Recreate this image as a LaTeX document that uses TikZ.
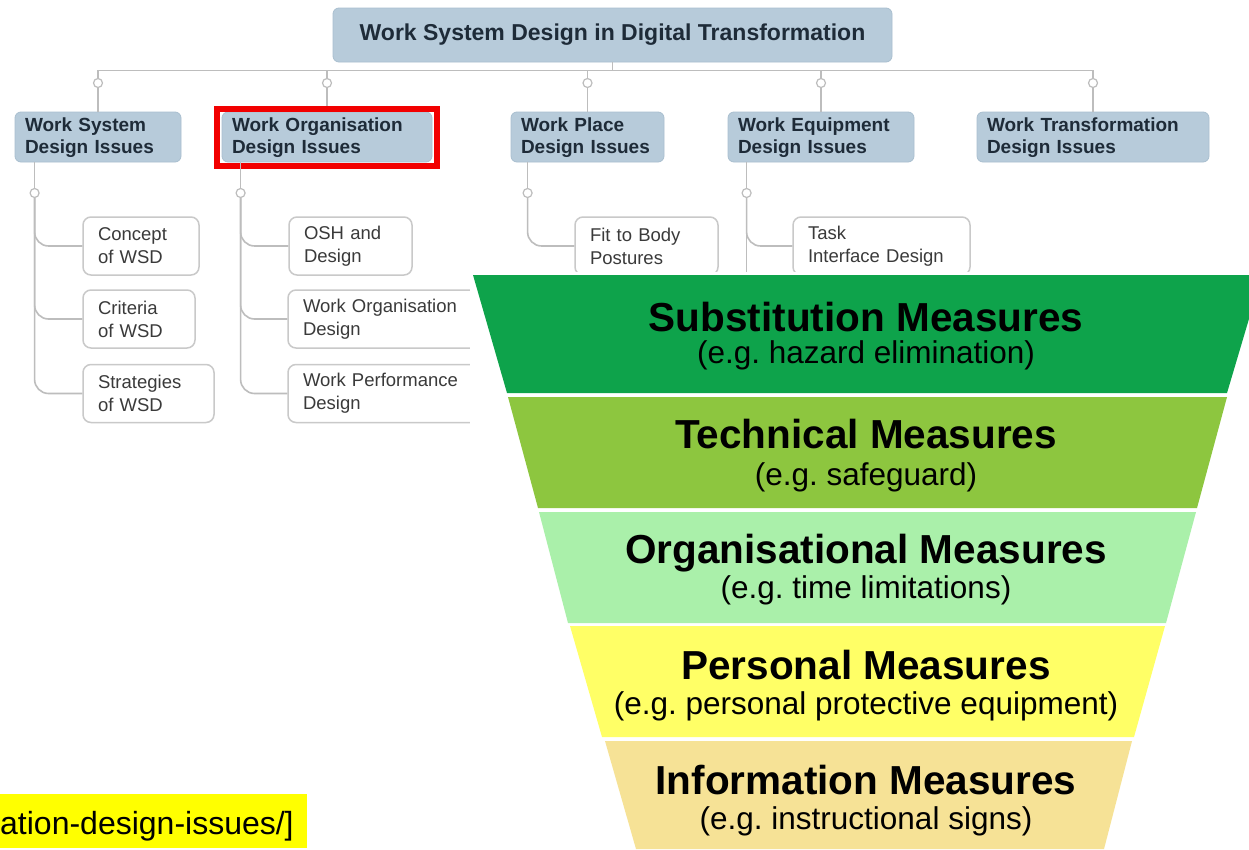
\documentclass[tikz,border=0pt]{standalone}
\usepackage{fontspec}
\setmainfont{Liberation Sans}
\frenchspacing
\definecolor{boxblue}{HTML}{B7CBDA}
\definecolor{boxedge}{HTML}{A9BFCF}
\definecolor{boxtext}{HTML}{1E2B38}
\definecolor{linegray}{HTML}{BDBDBD}
\definecolor{leafedge}{HTML}{C9C9C9}
\definecolor{leaftext}{HTML}{3A3A3A}
\definecolor{framered}{HTML}{F20000}
\definecolor{layerA}{HTML}{0EA34B}
\definecolor{layerB}{HTML}{8DC63F}
\definecolor{layerC}{HTML}{AAF0AA}
\definecolor{layerD}{HTML}{FFFF66}
\definecolor{layerE}{HTML}{F6E296}
\definecolor{labelyellow}{HTML}{FFFF00}
\begin{document}
\begin{tikzpicture}[x=1pt,y=-1pt,
    link/.style={draw=linegray, line width=1.6pt},
    theme/.style={rounded corners=6pt, fill=boxblue, draw=boxedge, line width=0.8pt,
      inner xsep=10pt, inner ysep=0pt, minimum height=50pt, align=left, text=boxtext,
      font=\bfseries\fontsize{19}{22}\selectfont},
    leaf/.style={rounded corners=8pt, fill=white, draw=leafedge, line width=1.5pt,
      inner xsep=15pt, inner ysep=0pt, minimum height=58pt, align=left, text=leaftext,
      font=\fontsize{18.5}{23}\selectfont},
    knob/.style={circle, draw=linegray, fill=white, line width=1.2pt, minimum size=9pt, inner sep=0pt},
    head/.style={anchor=base, font=\bfseries\fontsize{40.5}{48}\selectfont},
    hint/.style={anchor=base, font=\fontsize{31.5}{36}\selectfont}]
  \useasboundingbox (0,0) rectangle (1249,849);
  \fill[white] (0,0) rectangle (1249,849);

  %racine
  \node[theme, align=center, minimum width=559pt, minimum height=54pt,
    font=\bfseries\fontsize{23}{27}\selectfont] (top) at (612.5,35) {Work System Design in Digital Transformation};

  %themes
  \node[theme, text width=146pt] (ws) at (98,137) {\strut Work System\\Design Issues};
  \node[theme, text width=190pt] (wo) at (327,137) {\strut Work Organisation\\Design Issues};
  \node[theme, text width=133pt] (wp) at (587.5,137) {\strut Work Place\\Design Issues};
  \node[theme, text width=166pt] (we) at (821,137) {\strut Work Equipment\\Design Issues};
  \node[theme, text width=212pt] (wt) at (1093,137) {\strut Work Transformation\\Design Issues};

  %barre
  \draw[link] (top.south) -- ++(0,8) coordinate (hub);
  \draw[link] (ws.north) |- (hub);
  \draw[link] (wo.north) |- (hub);
  \draw[link] (wp.north) |- (hub);
  \draw[link] (we.north) |- (hub);
  \draw[link] (wt.north) |- (hub);
  \node[knob] (k-ws) at (ws.north |- 0,83) {};
  \node[knob] (k-wo) at (wo.north |- 0,83) {};
  \node[knob] (k-wp) at (wp.north |- 0,83) {};
  \node[knob] (k-we) at (we.north |- 0,83) {};
  \node[knob] (k-wt) at (wt.north |- 0,83) {};

  %cadre rouge
  \draw[framered, line width=6.5pt] ([xshift=-4.5pt,yshift=2.5pt]wo.north west) rectangle ([xshift=4.5pt,yshift=-3.5pt]wo.south east);

  %feuilles
  \node[leaf, text width=86pt] (c1) at (141,246) {Concept\\of WSD};
  \node[leaf, text width=82pt] (c2) at (139,319) {Criteria\\of WSD};
  \node[leaf, text width=101pt] (c3) at (148.5,393.5) {Strategies\\of WSD};
  \node[leaf, text width=93pt] (o1) at (350.5,246) {OSH and\\Design};
  \node[leaf, text width=170pt] (o2) at (388,319) {Work Organisation\\Design};
  \node[leaf, text width=170pt] (o3) at (388,393.5) {Work Performance\\Design};
  \node[leaf, text width=113pt] (p1) at (646.5,246) {Fit to Body\\Postures};
  \node[leaf, text width=147pt] (e1) at (881.5,246) {Task\\Interface Design};

  %tiges
  \coordinate (s-ws) at ([xshift=20pt]ws.south west);
  \coordinate (s-wo) at ([xshift=19pt]wo.south west);
  \coordinate (s-wp) at ([xshift=17pt]wp.south west);
  \coordinate (s-we) at ([xshift=19pt]we.south west);
  \node[knob] (q-ws) at (s-ws |- 0,193) {};
  \node[knob] (q-wo) at (s-wo |- 0,193) {};
  \node[knob] (q-wp) at (s-wp |- 0,193) {};
  \node[knob] (q-we) at (s-we |- 0,193) {};
  \draw[link] (s-ws) -- (q-ws);
  \draw[link] (s-wo) -- (q-wo);
  \draw[link] (s-wp) -- (q-wp);
  \draw[link] (s-we) -- (q-we);
  \draw[link, rounded corners=14pt] (q-ws) |- (c1.west);
  \draw[link, rounded corners=14pt] (q-ws) |- (c2.west);
  \draw[link, rounded corners=14pt] (q-ws) |- (c3.west);
  \draw[link, rounded corners=14pt] (q-wo) |- (o1.west);
  \draw[link, rounded corners=14pt] (q-wo) |- (o2.west);
  \draw[link, rounded corners=14pt] (q-wo) |- (o3.west);
  \draw[link, rounded corners=14pt] (q-wp) |- (p1.west);
  \draw[link, rounded corners=14pt] (q-we) |- (e1.west);
  \draw[link] (q-we) -- (q-we |- 0,285);

  %fond de l'entonnoir
  \fill[white] (470,272) rectangle (1249,849);

  %couches
  \fill[layerA] (473,275) -- (1262,275) -- (1227,393) -- (507,393) -- cycle;
  \fill[layerB] (508,397) -- (1227,397) -- (1197,508) -- (538,508) -- cycle;
  \fill[layerC] (539,512) -- (1196,512) -- (1166,623) -- (568,623) -- cycle;
  \fill[layerD] (570,626) -- (1165,626) -- (1134,737) -- (602,737) -- cycle;
  \fill[layerE] (605,741) -- (1132,741) -- (1104,849) -- (636,849) -- cycle;

  %textes
  \node[head] (t1) at (866,331) {Substitution Measures};
  \node[hint] (h1) at (866,363) {(e.g. hazard elimination)};
  \node[head] (t2) at (866,448) {Technical Measures};
  \node[hint] (h2) at (866,485) {(e.g. safeguard)};
  \node[head] (t3) at (866,563) {Organisational Measures};
  \node[hint] (h3) at (866,598) {(e.g. time limitations)};
  \node[head] (t4) at (866,679) {Personal Measures};
  \node[hint] (h4) at (866,714) {(e.g. personal protective equipment)};
  \node[head] (t5) at (866,794) {Information Measures};
  \node[hint] (h5) at (866,829) {(e.g. instructional signs)};

  %etiquette
  \fill[labelyellow] (0,794) rectangle (307,848);
  \node[anchor=base west, inner sep=0pt, font=\fontsize{32}{38}\selectfont] (src) at (0,834) {ation-design-issues/]};
\end{tikzpicture}
\end{document}
